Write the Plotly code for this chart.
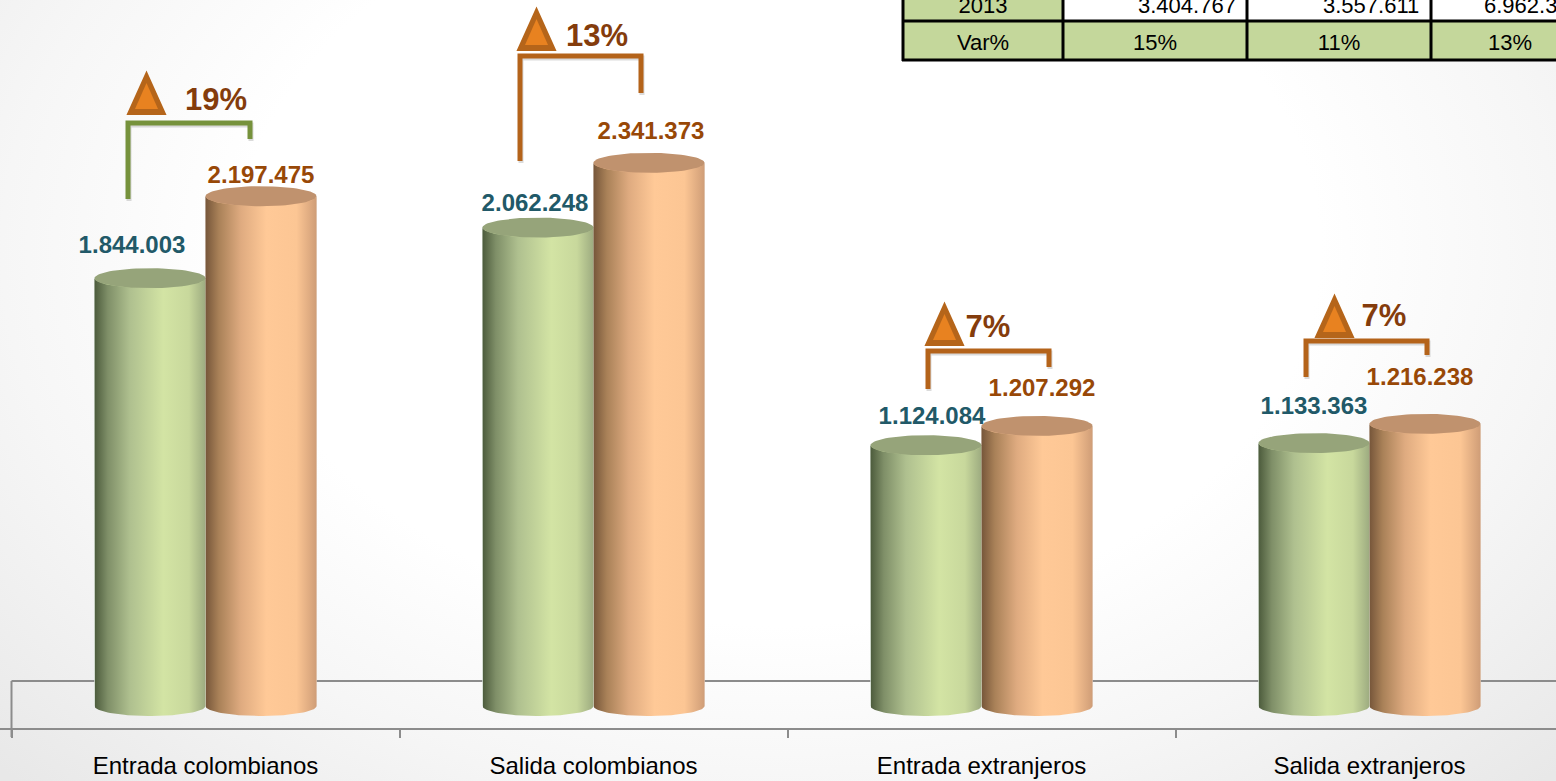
import numpy as np
import plotly.graph_objects as go

categories = ["Entrada colombianos", "Salida colombianos", "Entrada extranjeros", "Salida extranjeros"]
values_green = [1844003, 2062248, 1124084, 1133363]
values_orange = [2197475, 2341373, 1207292, 1216238]
labels_green = ["1.844.003", "2.062.248", "1.124.084", "1.133.363"]
labels_orange = ["2.197.475", "2.341.373", "1.207.292", "1.216.238"]
variation = ["19%", "13%", "7%", "7%"]
table_2013 = ["3.404.767", "3.557.611", "6.962.378"]
table_var = ["15%", "11%", "13%"]

W, H = 1556, 781
PX_PER_CAT = 388
PX_PER_VAL = 232e-6
X0_PX, Y0_PX = 205.5, 706
BAR_PX = 111
CAP_PX = 10
FONT = "Liberation Sans"
TEXT_DY = 2.5

x_range = [-X0_PX / PX_PER_CAT, (W - X0_PX) / PX_PER_CAT]
y_range = [(Y0_PX - H) / PX_PER_VAL, Y0_PX / PX_PER_VAL]
bw = BAR_PX / PX_PER_CAT
cap = CAP_PX / PX_PER_VAL

GREEN_STOPS = [[0, "#4c5b3c"], [0.12, "#7f8f68"], [0.32, "#afc08f"], [0.62, "#d3e4a4"], [0.85, "#c8d89c"], [1, "#9dab80"]]
ORANGE_STOPS = [[0, "#76563a"], [0.12, "#a98158"], [0.32, "#dfab80"], [0.55, "#ffc997"], [0.82, "#fcc694"], [1, "#cf9d77"]]
GREEN_CAP, ORANGE_CAP = "#96a47a", "#c0926e"


def px(x):
    return (x - X0_PX) / PX_PER_CAT


def py(y):
    return (Y0_PX - y) / PX_PER_VAL


fig = go.Figure()

# page background on the lower subplot
bg_x = [px(-300), px(1860), px(1860), px(-300), px(-300)]
bg_y = [py(-500), py(-500), py(1000), py(1000), py(-500)]
fig.add_trace(go.Scatter(
    x=bg_x, y=bg_y,
    mode="lines", line=dict(width=0), fill="toself", hoverinfo="skip", showlegend=False,
    fillgradient=dict(type="radial", colorscale=[[0, "#ffffff"], [0.5, "#ffffff"], [0.72, "#f6f6f6"], [1, "#e8e8e8"]]),
    xaxis="x", yaxis="y"))

# real bars
fig.add_trace(go.Bar(x=list(range(4)), y=values_green, marker_color="#c0d19a", width=bw,
                     showlegend=False, hoverinfo="skip", xaxis="x2", yaxis="y2"))
fig.add_trace(go.Bar(x=list(range(4)), y=values_orange, marker_color="#f0bc8e", width=bw,
                     showlegend=False, hoverinfo="skip", xaxis="x2", yaxis="y2"))


def cylinder(xc, value, stops, cap_color):
    t = np.linspace(np.pi, 2 * np.pi, 50)
    ex = xc + bw / 2 * np.cos(t)
    ey = cap * np.sin(t)
    xs = np.r_[xc - bw / 2, ex, xc + bw / 2, ex[::-1]]
    ys = np.r_[value, ey, value, (value + ey)[::-1]]
    fig.add_trace(go.Scatter(x=xs, y=ys, mode="lines", line=dict(width=0), fill="toself",
                             fillgradient=dict(type="horizontal", colorscale=stops),
                             hoverinfo="skip", showlegend=False, xaxis="x2", yaxis="y2"))
    t2 = np.linspace(0, 2 * np.pi, 80)
    fig.add_trace(go.Scatter(x=xc + bw / 2 * np.cos(t2), y=value + cap * np.sin(t2), mode="lines",
                             line=dict(width=0), fill="toself", fillcolor=cap_color,
                             hoverinfo="skip", showlegend=False, xaxis="x2", yaxis="y2"))


for i in range(4):
    cylinder(i - bw / 2, values_green[i], GREEN_STOPS, GREEN_CAP)
    cylinder(i + bw / 2, values_orange[i], ORANGE_STOPS, ORANGE_CAP)

shapes = []
GRAY = "#8c8c8c"


def shape(**kw):
    shapes.append(dict(xref="x2", yref="y2", layer="below", **kw))


# floor outline behind the cylinders
shape(type="line", x0=-0.5, x1=x_range[1], y0=py(681), y1=py(681), line=dict(color=GRAY, width=2))
shape(type="line", x0=-0.5, x1=-0.5, y0=py(681), y1=py(737), line=dict(color=GRAY, width=2))

# brackets: (x left, y left bottom, y top, x right, y right bottom, colour)
BRACKETS = [
    (128, 199, 123, 250, 139, "#76923c"),
    (520, 161, 56, 641, 93, "#b4631a"),
    (928, 389, 351, 1049, 367, "#b4631a"),
    (1306, 377, 341, 1427, 355, "#b4631a"),
]
TRIANGLES = [(127, 72), (517, 8), (925, 303), (1315, 295)]
PCT_POS = [(216, 100), (597, 36), (988, 327), (1384, 316)]


def path(points):
    return "M " + " L ".join(f"{px(a):.6f},{py(b):.1f}" for a, b in points)


for xl, yl, yt, xr, yr, col in BRACKETS:
    pts = [(xl, yl), (xl, yt), (xr, yt), (xr, yr)]
    shadow = [(a + 1, b + 2) for a, b in pts]
    shape(type="path", path=path(shadow), line=dict(color="rgba(90,90,90,0.22)", width=5))
    shape(type="path", path=path(pts), line=dict(color=col, width=5))

for tx, ty in TRIANGLES:
    outer = [(tx + 19.5, ty + 1), (tx + 38, ty + 42), (tx + 1, ty + 42)]
    inner = [(tx + 19.5, ty + 11), (tx + 31, ty + 37), (tx + 8, ty + 37)]
    shape(type="path", path=path(outer) + " Z", fillcolor="#b5651a", line=dict(color="#b5651a", width=2))
    shape(type="path", path=path(inner) + " Z", fillcolor="#e88220", line=dict(width=0))

# table
TBL_X = [903, 1063, 1247, 1431]
TBL_Y = [-4, 21, 60]
shape(type="rect", x0=px(TBL_X[0]), x1=px(TBL_X[1]), y0=py(TBL_Y[0]), y1=py(TBL_Y[1]), fillcolor="#c4d79b", line=dict(width=0))
shape(type="rect", x0=px(TBL_X[1]), x1=px(W + 5), y0=py(TBL_Y[0]), y1=py(TBL_Y[1]), fillcolor="#ffffff", line=dict(width=0))
shape(type="rect", x0=px(TBL_X[0]), x1=px(W + 5), y0=py(TBL_Y[1]), y1=py(TBL_Y[2]), fillcolor="#c4d79b", line=dict(width=0))
for tx in TBL_X:
    shape(type="line", x0=px(tx), x1=px(tx), y0=py(TBL_Y[0]), y1=py(TBL_Y[2] + 1), line=dict(color="#000000", width=3))
for ty in TBL_Y[1:]:
    shape(type="line", x0=px(TBL_X[0] - 1), x1=px(W + 5), y0=py(ty), y1=py(ty), line=dict(color="#000000", width=3))


def text(x, y, s, size, color, bold=False, position="middle center"):
    fig.add_trace(go.Scatter(x=[px(x)], y=[py(y + TEXT_DY)], mode="text", text=[f"<b>{s}</b>" if bold else s],
                             textposition=position, textfont=dict(family=FONT, size=size, color=color),
                             hoverinfo="skip", showlegend=False, cliponaxis=True, xaxis="x2", yaxis="y2"))


LBL_G = [(132, 244), (535, 202), (932, 415), (1314, 405)]
LBL_O = [(261, 174), (651, 130), (1042, 387), (1420, 376)]
for i in range(4):
    text(*LBL_G[i], labels_green[i], 24, "#215968", True)
    text(*LBL_O[i], labels_orange[i], 24, "#984807", True)
    text(*PCT_POS[i], variation[i], 31, "#843c0c", True)

text(983, 5, "2013", 22, "#000000")
text(983, 42, "Var%", 22, "#000000")
for i, (xa, xc) in enumerate(zip([1138, 1323, 1484], [1155, 1339, 1510])):
    text(xa, 5, table_2013[i], 22, "#000000", position="middle right")
    text(xc, 42, table_var[i], 22, "#000000")

fig.update_layout(
    width=W, height=H, margin=dict(l=0, r=0, t=0, b=0), showlegend=False,
    paper_bgcolor="#ffffff", plot_bgcolor="rgba(0,0,0,0)",
    barmode="group", bargap=1 - 2 * bw, bargroupgap=0,
    shapes=shapes,
    xaxis=dict(visible=False, range=x_range, domain=[0, 1], automargin=False),
    yaxis=dict(visible=False, range=y_range, domain=[0, 1], automargin=False),
    xaxis2=dict(range=x_range, domain=[0, 1], anchor="free", position=(H - 729) / H, automargin=False,
                tickmode="array", tickvals=[0, 1, 2, 3], ticktext=categories,
                ticks="outside", ticklen=15, tickcolor="rgba(0,0,0,0)", showgrid=False, zeroline=False,
                showline=True, linecolor=GRAY, linewidth=2,
                tickfont=dict(family=FONT, size=24, color="#000000"),
                minor=dict(tickmode="array", tickvals=[-0.5, 0.5, 1.5, 2.5], ticks="outside", ticklen=8,
                           tickcolor=GRAY, tickwidth=2, showgrid=False)),
    yaxis2=dict(visible=False, range=y_range, domain=[0, 1], anchor="x2", automargin=False),
)

fig.write_html("out.html", config={"displayModeBar": False},
               post_script="document.body.style.margin='0';document.documentElement.style.overflow='hidden';")
